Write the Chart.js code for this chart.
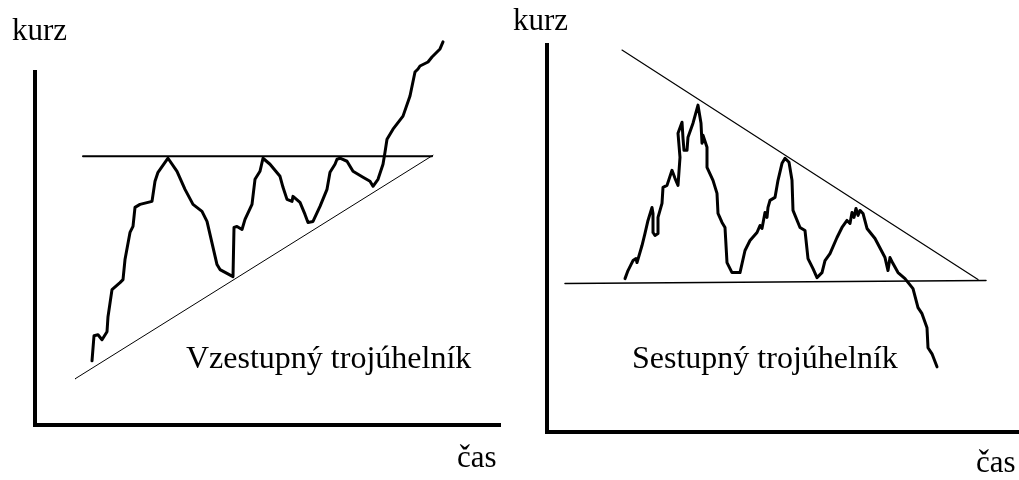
<!DOCTYPE html>
<html>
<head>
<meta charset="utf-8">
<script src="https://cdn.jsdelivr.net/npm/chart.js@4/dist/chart.umd.min.js"></script>
<style>
  body { margin: 0; background: #fff; }
  #wrap { position: relative; width: 1019px; height: 480px; overflow: hidden; }
  canvas { position: absolute; top: 0; }
  .lbl { position: absolute; font-family: "Liberation Serif", "Times New Roman", serif; line-height: 1; color: #000; white-space: nowrap; }
</style>
</head>
<body>
<div id="wrap">
  <canvas id="rising" width="510" height="480" style="left:0"></canvas>
  <canvas id="falling" width="509" height="480" style="left:510px"></canvas>
  <div class="lbl" style="left:12px;top:14px;font-size:31px">kurz</div>
  <div class="lbl" style="left:457px;top:441px;font-size:31px">čas</div>
  <div class="lbl" style="left:186px;top:341px;font-size:32px">Vzestupný trojúhelník</div>
  <div class="lbl" style="left:513px;top:4px;font-size:31px">kurz</div>
  <div class="lbl" style="left:976px;top:446px;font-size:31px">čas</div>
  <div class="lbl" style="left:632px;top:341px;font-size:32px">Sestupný trojúhelník</div>
</div>
<script>
// ascending triangle (vzestupný)
const ascTime = [57, 59, 63, 67, 72, 73, 77, 85, 88, 90, 95, 98, 100, 105, 117, 120, 123, 133, 142, 150,
  158, 167, 172, 182, 185, 198, 199, 202, 207, 210, 217, 220, 225, 228, 235, 245, 248, 252, 257, 258,
  265, 270, 273, 278, 285, 292, 295, 300, 302, 305, 312, 318, 328, 335, 338, 343, 348, 350, 352, 358,
  368, 375, 380, 383, 385, 393, 397, 400, 405, 408];
const ascPrice = [64, 89, 90, 85, 93, 108, 135, 142, 145, 165, 192, 198, 217, 220, 223, 243, 252, 266, 253, 235,
  220, 213, 203, 160, 155, 148, 197, 198, 195, 205, 220, 245, 253, 266, 260, 248, 237, 225, 223, 228,
  222, 210, 202, 203, 218, 235, 252, 260, 265, 266, 263, 253, 247, 243, 238, 245, 260, 272, 285, 295,
  308, 328, 352, 355, 358, 362, 367, 370, 375, 382];
const ascResistTime = [48, 397];
const ascResistPrice = [268, 268];
const ascSupportTime = [40, 398];
const ascSupportPrice = [46, 269];

// descending triangle (sestupný)
const descTime = [78, 81, 86, 89, 90, 95, 98, 101, 105, 106, 106, 108, 111, 111, 115, 116, 120, 125, 128, 131,
  133, 131, 135, 136, 137, 140, 141, 146, 151, 154, 155, 156, 160, 160, 166, 170, 171, 175, 178, 180,
  185, 193, 198, 203, 210, 213, 215, 218, 220, 221, 223, 228, 231, 235, 238, 242, 245, 246, 253, 258,
  261, 266, 270, 275, 278, 283, 290, 295, 300, 303, 305, 307, 309, 311, 313, 316, 320, 328, 338, 341,
  343, 346, 351, 358, 366, 371, 375, 380, 381, 385, 390];
const descPrice = [153, 161, 171, 173, 169, 186, 198, 211, 224, 218, 199, 196, 198, 214, 228, 244, 246, 261, 253, 246,
  274, 298, 309, 293, 281, 281, 294, 308, 326, 308, 288, 296, 284, 264, 251, 238, 218, 209, 204, 169,
  159, 159, 181, 191, 199, 206, 203, 219, 214, 224, 231, 234, 251, 268, 273, 269, 251, 221, 204, 201,
  173, 163, 154, 159, 171, 178, 194, 204, 211, 208, 219, 214, 223, 216, 221, 218, 203, 193, 174, 161,
  174, 168, 159, 153, 143, 124, 118, 104, 84, 78, 65];
const descResistTime = [75, 431];
const descResistPrice = [381, 152];
const descSupportTime = [18, 439];
const descSupportPrice = [148, 151];

function pts(xs, ys) {
  return xs.map((x, i) => ({ x: x, y: ys[i] }));
}

function line(xs, ys, width) {
  return {
    data: pts(xs, ys),
    borderColor: "#000",
    borderWidth: width,
    pointRadius: 0,
    tension: 0,
    clip: false,
    borderJoinStyle: "round",
    borderCapStyle: "round",
  };
}

function axis(max, pos) {
  return {
    type: "linear",
    position: pos,
    min: 0,
    max: max,
    grid: { display: false, drawTicks: false },
    ticks: { display: false },
    border: { display: true, color: "#000", width: 4 },
  };
}

function makeChart(id, datasets, xMax, yMax, padding) {
  return new Chart(document.getElementById(id), {
    type: "line",
    data: { datasets: datasets },
    options: {
      responsive: false,
      animation: false,
      events: [],
      layout: { padding: padding },
      plugins: { legend: { display: false }, tooltip: { enabled: false } },
      scales: { x: axis(xMax, "bottom"), y: axis(yMax, "left") },
    },
  });
}

makeChart("rising", [
  line(ascTime, ascPrice, 3),
  line(ascResistTime, ascResistPrice, 2),
  line(ascSupportTime, ascSupportPrice, 1),
], 465, 352, { left: 35, right: 10, top: 72, bottom: 55 });

makeChart("falling", [
  line(descTime, descPrice, 3),
  line(descResistTime, descResistPrice, 1.2),
  line(descSupportTime, descSupportPrice, 1.5),
], 472, 386, { left: 37, right: 0, top: 45, bottom: 48 });
</script>
</body>
</html>
